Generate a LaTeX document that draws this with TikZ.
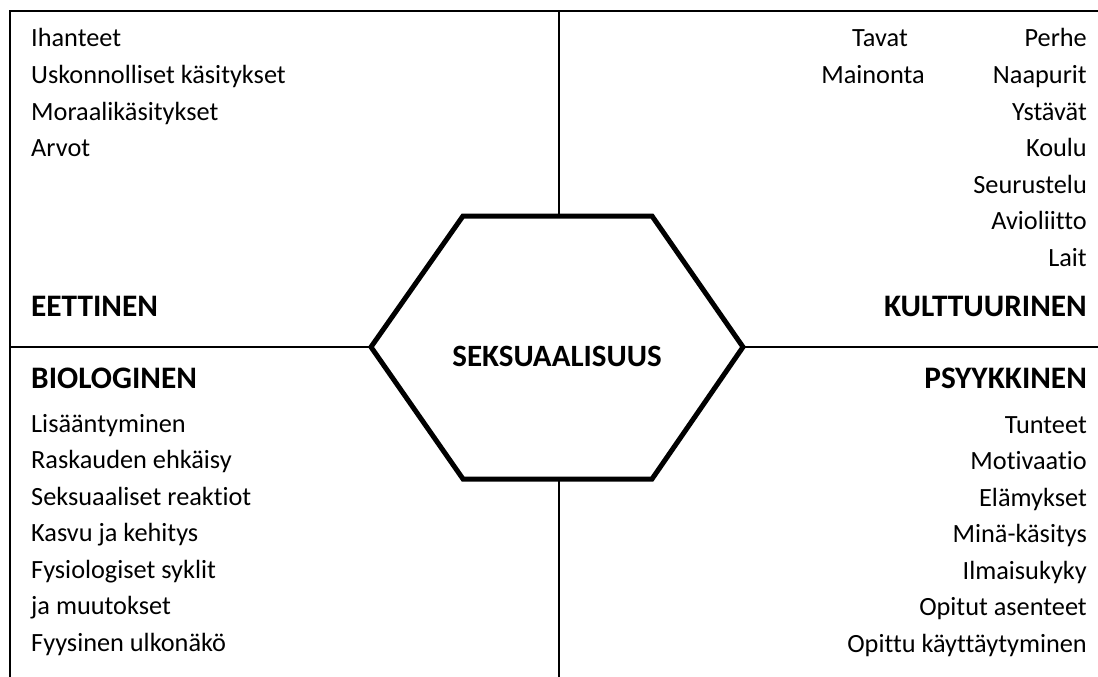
\documentclass[tikz,border=0pt]{standalone}
\usepackage{fontspec}
\setmainfont{Carlito}[Ligatures={NoCommon}]
\begin{document}
\begin{tikzpicture}[x=1pt,y=-1pt,
  ltxt/.style={font=\fontsize{26.3}{30}\selectfont, inner sep=0pt, anchor=base west},
  rtxt/.style={font=\fontsize{26.3}{30}\selectfont, inner sep=0pt, anchor=base east},
  lhead/.style={font=\fontsize{31.3}{36}\selectfont\bfseries, inner sep=0pt, anchor=base west},
  rhead/.style={font=\fontsize{31.3}{36}\selectfont\bfseries, inner sep=0pt, anchor=base east},
  frame/.style={line width=2.5pt, black},
  hexline/.style={line width=5pt, black, line join=miter}]
\useasboundingbox (0,0) rectangle (1098,677);
% frame coordinates
\coordinate (tl) at (10,11);
\coordinate (tr) at (1098,11);
\coordinate (bl) at (10,677);
\coordinate (mt) at (559,11);
\coordinate (mb) at (559,677);
\coordinate (ml) at (10,347);
\coordinate (mr) at (1098,347);
% hexagon vertices
\coordinate (h1) at (371,347);
\coordinate (h2) at (463,216);
\coordinate (h3) at (652,216);
\coordinate (h4) at (743,347);
\coordinate (h5) at (652,479);
\coordinate (h6) at (463,479);
\coordinate (htop) at (559,216);
\coordinate (hbot) at (559,479);
\draw[frame] (bl) -- (tl) -- (tr);
\draw[frame] (mt) -- (htop);
\draw[frame] (hbot) -- (mb);
\draw[frame] (ml) -- (h1);
\draw[frame] (h4) -- (mr);
\draw[hexline] (h1) -- (h2) -- (h3) -- (h4) -- (h5) -- (h6) -- cycle;
\node[font=\fontsize{31}{36}\selectfont\bfseries, inner sep=0pt, anchor=base] (center) at (557,366) {SEKSUAALISUUS};
% EETTINEN
\node[ltxt] (e1) at (31,47) {Ihanteet};
\node[ltxt] (e2) at (31,83.5) {Uskonnolliset käsitykset};
\node[ltxt] (e3) at (31,120) {Moraalikäsitykset};
\node[ltxt] (e4) at (31,156.5) {Arvot};
\node[lhead] (eh) at (31,316) {EETTINEN};
% KULTTUURINEN
\node[rtxt] (k1) at (1087,47) {Perhe};
\node[rtxt] (k2) at (1087,83.5) {Naapurit};
\node[rtxt] (k3) at (1087,120) {Ystävät};
\node[rtxt] (k4) at (1087,156.5) {Koulu};
\node[rtxt] (k5) at (1087,193) {Seurustelu};
\node[rtxt] (k6) at (1087,229.5) {Avioliitto};
\node[rtxt] (k7) at (1087,266) {Lait};
\node[ltxt, anchor=base] (k8) at (880,47) {Tavat};
\node[ltxt, anchor=base] (k9) at (873,83.5) {Mainonta};
\node[rhead] (kh) at (1087,316) {KULTTUURINEN};
% BIOLOGINEN
\node[lhead] (bh) at (31,388) {BIOLOGINEN};
\node[ltxt] (b1) at (31,432) {Lisääntyminen};
\node[ltxt] (b2) at (31,468.5) {Raskauden ehkäisy};
\node[ltxt] (b3) at (31,505) {Seksuaaliset reaktiot};
\node[ltxt] (b4) at (31,541.5) {Kasvu ja kehitys};
\node[ltxt] (b5) at (31,578) {Fysiologiset syklit};
\node[ltxt] (b6) at (31,614.5) {ja muutokset};
\node[ltxt] (b7) at (31,651) {Fyysinen ulkonäkö};
% PSYYKKINEN
\node[rhead] (ph) at (1087,388) {PSYYKKINEN};
\node[rtxt] (p1) at (1087,433) {Tunteet};
\node[rtxt] (p2) at (1087,469.5) {Motivaatio};
\node[rtxt] (p3) at (1087,506) {Elämykset};
\node[rtxt] (p4) at (1087,542.5) {Minä-käsitys};
\node[rtxt] (p5) at (1087,579) {Ilmaisukyky};
\node[rtxt] (p6) at (1087,615.5) {Opitut asenteet};
\node[rtxt] (p7) at (1087,652) {Opittu käyttäytyminen};
\end{tikzpicture}
\end{document}
